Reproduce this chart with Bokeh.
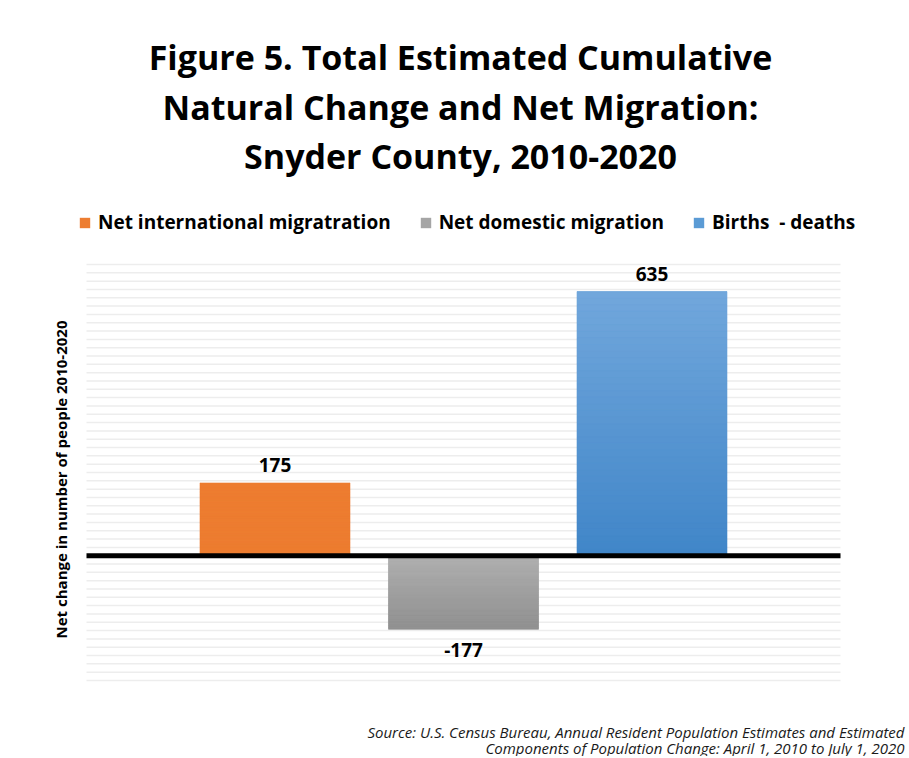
import numpy as np
from bokeh.plotting import figure
from bokeh.models import Label, Legend, LegendItem, Range1d
from bokeh.core.properties import value
from bokeh.embed import file_html
from bokeh.resources import INLINE

# ---- data ----
categories = ["Net international migratration", "Net domestic migration", "Births  - deaths"]
values = [175, -177, 635]
colors = ["#ED7D31", "#A5A5A5", "#5B9BD5"]
grad_top = ["#ED7D31", "#B0B0B0", "#71A7DC"]
grad_bottom = ["#ED7D31", "#909090", "#4186C8"]
title_lines = ["Figure 5. Total Estimated Cumulative",
               "Natural Change and Net Migration:",
               "Snyder County, 2010-2020"]
y_label = "Net change in number of people 2010-2020"
source_lines = ["Source: U.S. Census Bureau, Annual Resident Population Estimates and Estimated",
                "Components of Population Change: April 1, 2010 to July 1, 2020"]
y_min, y_max, y_step = -300, 700, 20

FONT = "Open Sans"
W, H = 907, 756
# pixel box of the plotting area inside the canvas
PL, PR, PT, PB = 86, 840, 264, 680
X0, X1 = 0, len(categories) + 1

# ranges so that the data box maps onto the pixel box (frame covers whole canvas)
kx = (X1 - X0) / (PR - PL)
ky = (y_max - y_min) / (PB - PT)
x_range = Range1d(X0 - PL * kx, X1 + (W - PR) * kx)
y_range = Range1d(y_min - (H - PB) * ky, y_max + PT * ky)

p = figure(width=W, height=H, output_backend="svg", toolbar_location=None,
           x_range=x_range, y_range=y_range,
           min_border=0, min_border_left=0, min_border_right=0,
           min_border_top=0, min_border_bottom=0)
p.xaxis.visible = False
p.yaxis.visible = False
p.xgrid.visible = False
p.ygrid.visible = False
p.outline_line_color = None
p.background_fill_color = "white"
p.border_fill_color = "white"

# horizontal gridlines limited to the plotting area
gy = np.arange(y_min, y_max + 1, y_step)
p.segment(x0=[X0] * len(gy), x1=[X1] * len(gy), y0=gy, y1=gy,
          line_color="#EDEDED", line_width=1.5)

xs = [i + 1 for i in range(len(categories))]
BW = 0.796
bars = []
for i in range(len(categories)):
    r = p.vbar(x=[xs[i]], top=[values[i]], bottom=[0], width=BW, fill_color=colors[i],
               line_color=None)
    bars.append(r)

# gradient overlay slices (derived from values)
def hex2rgb(h):
    h = h.lstrip("#")
    return np.array([int(h[k:k + 2], 16) for k in (0, 2, 4)], dtype=float)

N = 40
for i, v in enumerate(values):
    c0 = hex2rgb(grad_top[i]); c1 = hex2rgb(grad_bottom[i])
    hi = max(v, 0); lo = min(v, 0)
    edges = np.linspace(hi, lo, N + 1)
    cols = []
    for k in range(N):
        t = k / (N - 1)
        c = c0 * (1 - t) + c1 * t
        cols.append("#%02x%02x%02x" % tuple(int(round(z)) for z in c))
    p.vbar(x=[xs[i]] * N, top=edges[:-1], bottom=edges[1:], width=BW,
           fill_color=cols, line_color=cols, line_width=0.5)

# zero line across the plotting area
p.segment(x0=[X0], x1=[X1], y0=[0], y1=[0], line_color="black", line_width=5)

# data labels
for i, v in enumerate(values):
    off = 18 if v >= 0 else -21
    p.text(x=[xs[i]], y=[v], text=[str(v)], text_align="center", text_baseline="middle",
           y_offset=-off, text_font=value(FONT), text_font_style="bold",
           text_font_size="19px", text_color="black")

# legend
items = [LegendItem(label=categories[i], renderers=[bars[i]]) for i in range(len(categories))]
legend = Legend(items=items, orientation="horizontal", location=(78, H - 235),
                label_text_font=FONT, label_text_font_style="bold", label_text_font_size="19px",
                glyph_width=13, glyph_height=13, label_standoff=7, spacing=28,
                padding=0, margin=0, border_line_color=None, background_fill_alpha=0,
                label_text_color="black", label_height=24)
p.add_layout(legend, "center")

# canvas pixel coords (from top-left) -> screen units of the frame (from bottom-left)
def sy(Y): return H - Y

for line, Y in zip(title_lines, [56, 106, 155]):
    p.add_layout(Label(x=460, y=sy(Y), x_units="screen", y_units="screen", text=line,
                       text_align="center", text_baseline="middle", text_font=FONT,
                       text_font_style="bold", text_font_size="34px", text_color="black"))

p.add_layout(Label(x=60, y=sy(479), x_units="screen", y_units="screen", text=y_label,
                   angle=np.pi / 2, text_align="center", text_baseline="middle",
                   text_font=FONT, text_font_style="bold", text_font_size="15px",
                   text_color="black"))

for line, Y in zip(source_lines, [731, 747]):
    p.add_layout(Label(x=904, y=sy(Y), x_units="screen", y_units="screen", text=line,
                       text_align="right", text_baseline="middle", text_font=FONT,
                       text_font_style="italic", text_font_size="15px", text_color="#1a1a1a"))

open("out.html", "w").write(file_html(p, INLINE))
